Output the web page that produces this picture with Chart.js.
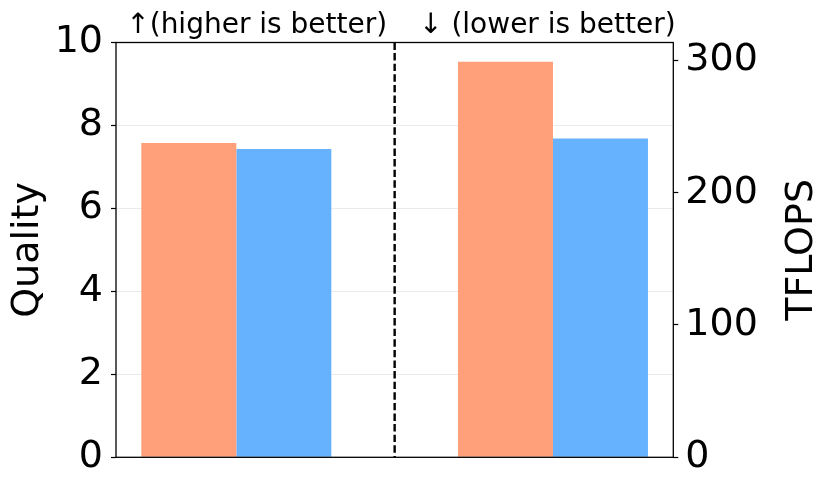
<!DOCTYPE html>
<html>
<head>
<meta charset="utf-8">
<script src="https://cdn.jsdelivr.net/npm/chart.js@4/dist/chart.umd.min.js"></script>
<style>
  html, body { margin: 0; padding: 0; background: #fff; }
  #wrap { width: 831px; height: 492px; }
</style>
</head>
<body>
<div id="wrap"><canvas id="chart"></canvas></div>
<script>
// data
const groupPositions = [0, 1];          // left group = Quality, right group = TFLOPS
const qualityValues = [7.58, 7.43];     // orange, blue
const tflopsValues = [299, 241];        // orange, blue
const seriesColors = ['#FFA07A', '#66B2FF'];
const groupNotes = ['\u2191(higher is better)', '\u2193 (lower is better)'];
const leftTicks = [0, 2, 4, 6, 8, 10];
const rightTicks = [0, 100, 200, 300];

const FONT = "'DejaVu Sans', sans-serif";

// quality bars sit at x=0, tflops bars at x=1
function qualityData(i) {
  return [{ x: groupPositions[0], y: qualityValues[i] }, { x: groupPositions[1], y: null }];
}
function tflopsData(i) {
  return [{ x: groupPositions[0], y: null }, { x: groupPositions[1], y: tflopsValues[i] }];
}

const overlay = {
  id: 'overlay',
  afterDatasetsDraw(chart) {
    const { ctx, chartArea: a, scales } = chart;
    ctx.save();
    // divider between the two groups
    const xm = scales.x.getPixelForValue((groupPositions[0] + groupPositions[1]) / 2);
    ctx.strokeStyle = '#000';
    ctx.lineWidth = 2.4;
    ctx.setLineDash([7.4, 3.2]);
    ctx.beginPath();
    ctx.moveTo(xm, a.top);
    ctx.lineTo(xm, a.bottom);
    ctx.stroke();
    ctx.setLineDash([]);
    // frame
    ctx.lineWidth = 1.3;
    ctx.strokeRect(a.left, a.top, a.right - a.left, a.bottom - a.top);
    // notes above each half
    ctx.fillStyle = '#000';
    ctx.font = '28px ' + FONT;
    ctx.textAlign = 'center';
    ctx.textBaseline = 'alphabetic';
    const w = a.right - a.left;
    ctx.fillText(groupNotes[0], a.left + w * 0.2525, 32.5);
    ctx.fillText(groupNotes[1], a.left + w * 0.774, 32.5);
    // axis titles, both reading bottom to top
    ctx.font = '38px ' + FONT;
    const yc = (a.top + a.bottom) / 2;
    ctx.translate(38, yc);
    ctx.rotate(-Math.PI / 2);
    ctx.fillText('Quality', 0, 0);
    ctx.rotate(Math.PI / 2);
    ctx.translate(812 - 38, 0);
    ctx.rotate(-Math.PI / 2);
    ctx.fillText('TFLOPS', 0, 0);
    ctx.restore();
  }
};

const ctx = document.getElementById('chart').getContext('2d');
const chart = new Chart(ctx, {
  type: 'bar',
  data: {
    datasets: [
      { data: qualityData(0), backgroundColor: seriesColors[0], yAxisID: 'y' },
      { data: qualityData(1), backgroundColor: seriesColors[1], yAxisID: 'y' },
      { data: tflopsData(0), backgroundColor: seriesColors[0], yAxisID: 'y1' },
      { data: tflopsData(1), backgroundColor: seriesColors[1], yAxisID: 'y1' }
    ]
  },
  options: {
    responsive: true,
    maintainAspectRatio: false,
    animation: false,
    skipNull: true,
    categoryPercentage: 0.6,
    barPercentage: 1,
    layout: { padding: { left: 0, right: 0, top: 42.5, bottom: 34.7 } },
    plugins: { legend: { display: false }, tooltip: { enabled: false } },
    scales: {
      x: {
        type: 'linear',
        offset: false,
        min: -0.38,
        max: 1.38,
        display: false,
        afterBuildTicks: s => { s.ticks = groupPositions.map(v => ({ value: v })); }
      },
      y: {
        position: 'left',
        min: 0,
        max: 10,
        afterBuildTicks: s => { s.ticks = leftTicks.map(v => ({ value: v })); },
        afterFit: s => { s.width = 116; },
        border: { display: false },
        grid: { color: '#ebebeb', lineWidth: 1, tickColor: '#000', tickLength: 5, tickWidth: 1.2 },
        ticks: { color: '#000', font: { family: FONT, size: 38 }, padding: 8 }
      },
      y1: {
        position: 'right',
        min: 0,
        max: 313.5,
        afterBuildTicks: s => { s.ticks = rightTicks.map(v => ({ value: v })); },
        afterFit: s => { s.width = 831 - 673.3; },
        border: { display: false },
        grid: { drawOnChartArea: false, tickColor: '#000', tickLength: 5, tickWidth: 1.2 },
        ticks: { color: '#000', font: { family: FONT, size: 38 }, padding: 7 }
      }
    }
  },
  plugins: [overlay]
});
</script>
</body>
</html>
